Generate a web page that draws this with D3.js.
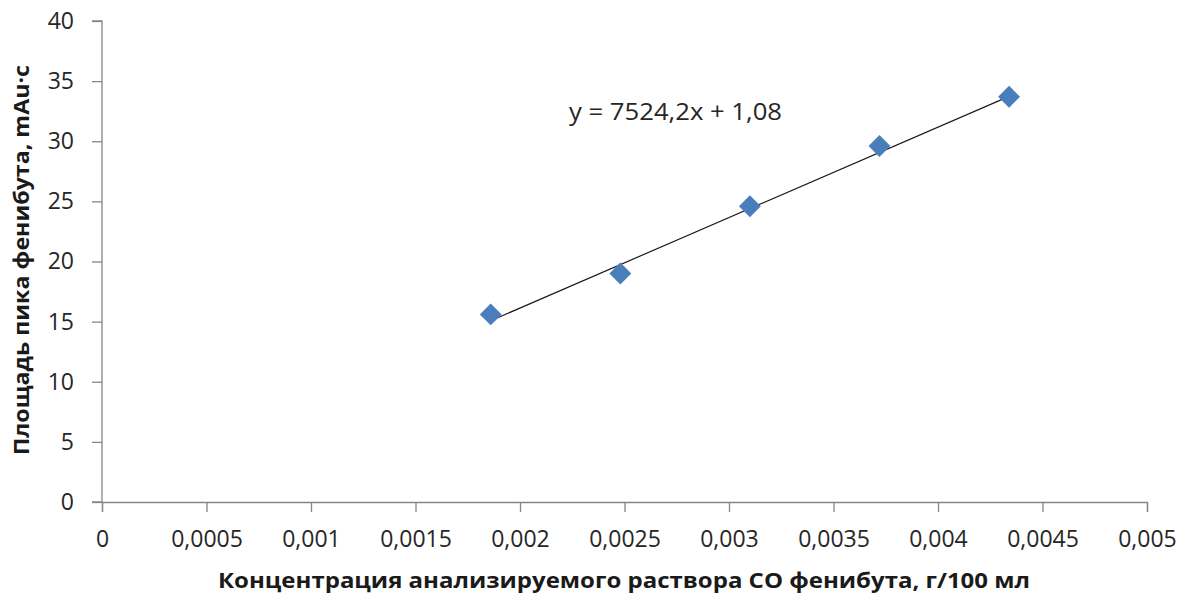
<!DOCTYPE html>
<html lang="ru">
<head>
    <meta charset="UTF-8">
    <title>Градуировочный график</title>
    <script src="https://cdn.jsdelivr.net/npm/d3@7"></script>
    <style>
        body { margin: 0; background: #fff; }
        text { font-family: "Open Sans", "Liberation Sans", sans-serif; }
    </style>
</head>
<body>
    <svg id="mainsvg" width="1194" height="594"></svg>
    <script>
        // данные
        const concentration = [0.00186, 0.00248, 0.0031, 0.00372, 0.00434];
        const peakArea = [15.6, 19.0, 24.6, 29.6, 33.7];
        const slope = 7524.2, intercept = 1.08;
        const xTicks = [0, 0.0005, 0.001, 0.0015, 0.002, 0.0025, 0.003, 0.0035, 0.004, 0.0045, 0.005];
        const yTicks = [0, 5, 10, 15, 20, 25, 30, 35, 40];

        const svg = d3.select("#mainsvg");
        const margin = {top: 21, right: 47, bottom: 92, left: 102};
        const width = +svg.attr("width"), height = +svg.attr("height");
        const innerWidth = width - margin.left - margin.right;
        const innerHeight = height - margin.top - margin.bottom;

        const x = d3.scaleLinear().domain([0, 0.005]).range([0, innerWidth]);
        const y = d3.scaleLinear().domain([0, 40]).range([innerHeight, 0]);
        const fmt = d => String(d).replace(".", ",");

        const g = svg.append("g").attr("transform", `translate(${margin.left},${margin.top})`);

        const yAxis = g.append("g").call(d3.axisLeft(y).tickValues(yTicks).tickSize(10).tickPadding(18).tickFormat(fmt));
        const xAxis = g.append("g").attr("transform", `translate(0,${innerHeight})`)
            .call(d3.axisBottom(x).tickValues(xTicks).tickSize(10).tickPadding(19).tickFormat(fmt));

        [xAxis, yAxis].forEach(a => {
            a.select(".domain").attr("stroke", "#868686").attr("stroke-width", 1.3);
            a.selectAll(".tick line").attr("stroke", "#868686").attr("stroke-width", 1.3);
            a.selectAll(".tick text").attr("font-size", "23px").attr("fill", "#262626")
                .style("font-family", "'Open Sans', sans-serif");
        });
        yAxis.select(".domain").attr("d", `M-10,${innerHeight}H0V0H-10`);

        const pts = concentration.map((c, i) => ({x: c, y: peakArea[i]}));

        // линия тренда
        const x0 = d3.min(concentration), x1 = d3.max(concentration);
        g.append("line")
            .attr("x1", x(x0)).attr("y1", y(slope * x0 + intercept))
            .attr("x2", x(x1)).attr("y2", y(slope * x1 + intercept))
            .attr("stroke", "#1a1a1a").attr("stroke-width", 1.2);

        g.selectAll(".pt").data(pts).enter().append("path")
            .attr("class", "pt")
            .attr("d", d3.symbol().type(d3.symbolSquare).size(240))
            .attr("transform", d => `translate(${x(d.x)},${y(d.y)}) rotate(45)`)
            .attr("fill", "#4a7ebb");

        svg.append("text").text("y = 7524,2x + 1,08")
            .attr("x", 569).attr("y", 120)
            .attr("textLength", 213).attr("lengthAdjust", "spacingAndGlyphs")
            .attr("font-size", "23px").attr("fill", "#262626");

        svg.append("text").text("Концентрация анализируемого раствора СО фенибута, г/100 мл")
            .attr("x", 624).attr("y", 588)
            .attr("textLength", 812).attr("lengthAdjust", "spacingAndGlyphs")
            .attr("text-anchor", "middle").attr("font-weight", "bold")
            .attr("font-size", "21px").attr("fill", "#1a1a1a");

        svg.append("text").text("Площадь пика фенибута, mAu·c")
            .attr("transform", "translate(29,260) rotate(-90)")
            .attr("textLength", 390).attr("lengthAdjust", "spacingAndGlyphs")
            .attr("text-anchor", "middle").attr("font-weight", "bold")
            .attr("font-size", "21px").attr("fill", "#1a1a1a");
    </script>
</body>
</html>
